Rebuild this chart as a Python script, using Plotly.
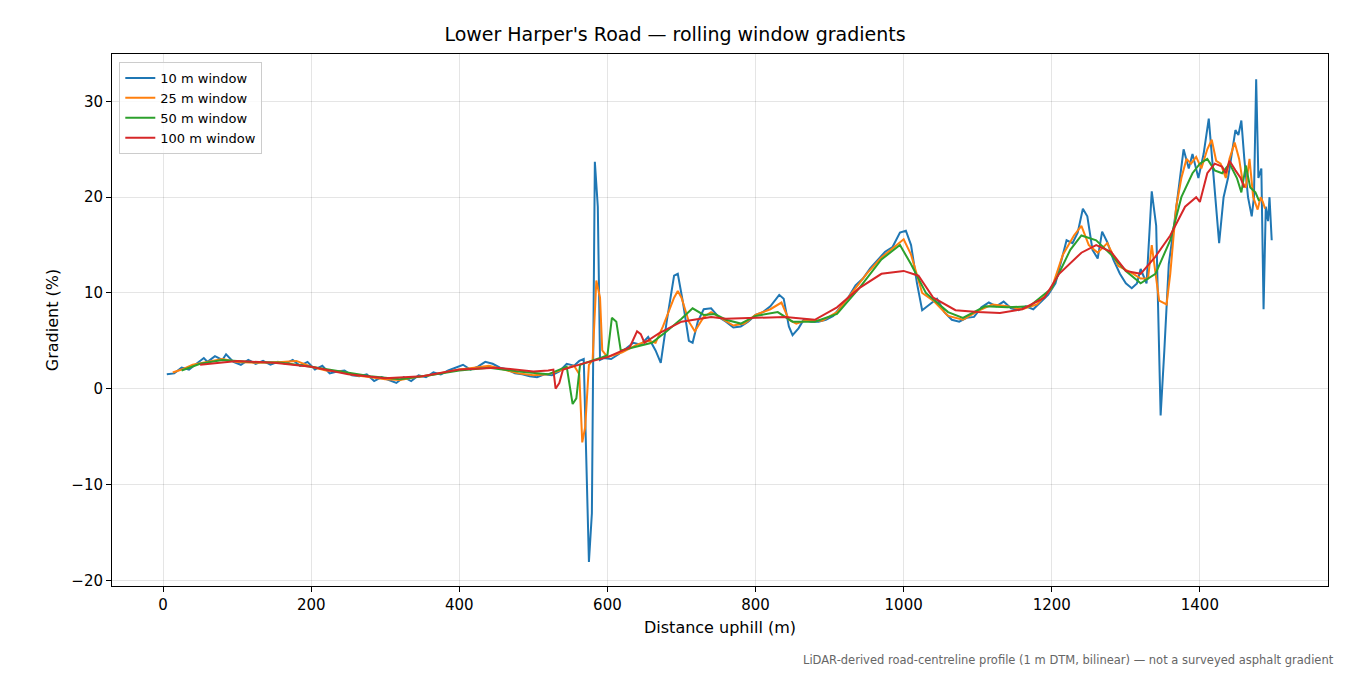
import plotly.graph_objects as go

# 10 m window
x10 = [5, 15, 25, 35, 45, 55, 60, 70, 80, 85, 95, 105, 115, 125, 135, 145, 155, 165, 175, 185, 195,
       205, 215, 225, 235, 245, 255, 265, 275, 285, 295, 305, 315, 325, 335, 345, 355, 365, 375, 385,
       395, 405, 415, 425, 435, 445, 455, 465, 475, 485, 495, 505, 515, 525, 535, 545, 555, 562, 568,
       572, 575, 579, 583, 587, 590, 595, 605, 615, 625, 635, 645, 655, 665, 672, 680, 690, 695, 702,
       710, 715, 722, 730, 740, 750, 760, 770, 780, 790, 800, 810, 820, 832, 838, 845, 850, 858, 865,
       875, 885, 895, 905, 915, 925, 935, 945, 955, 965, 975, 985, 995, 1003, 1010, 1018, 1025, 1035,
       1045, 1055, 1065, 1075, 1085, 1095, 1105, 1115, 1125, 1135, 1145, 1155, 1165, 1175, 1185, 1195,
       1205, 1212, 1220, 1228, 1235, 1242, 1248, 1255, 1262, 1268, 1275, 1283, 1292, 1300, 1308, 1315,
       1320, 1328, 1335, 1341, 1347, 1352, 1358, 1365, 1372, 1378, 1385, 1390, 1398, 1405, 1412, 1418,
       1422, 1426, 1432, 1438, 1443, 1448, 1452, 1456, 1460, 1465, 1470, 1473, 1476, 1479, 1483, 1486,
       1489, 1492, 1494, 1497]
y10 = [1.5, 1.6, 2.2, 2.0, 2.6, 3.2, 2.8, 3.4, 3.0, 3.6, 2.8, 2.5, 3.0, 2.6, 2.9, 2.5, 2.8, 2.6, 3.0, 2.4, 2.8,
       2.0, 2.4, 1.6, 1.8, 1.9, 1.4, 1.3, 1.5, 0.8, 1.2, 0.9, 0.6, 1.2, 0.8, 1.4, 1.2, 1.7, 1.5, 1.9,
       2.2, 2.5, 2.0, 2.3, 2.8, 2.6, 2.2, 2.0, 1.6, 1.5, 1.3, 1.2, 1.5, 1.4, 1.8, 2.6, 2.4, 2.9, 3.1,
       -8, -18.1, -13, 23.7, 19, 3.0, 3.2, 3.1, 3.6, 4.2, 4.8, 4.6, 5.4, 4.0, 2.7, 7, 11.8, 12, 9,
       5, 4.8, 7, 8.3, 8.4, 7.5, 7.0, 6.4, 6.5, 7.0, 7.7, 8.0, 8.6, 9.8, 9.4, 6.5, 5.6, 6.3, 7.2,
       7.0, 7.0, 7.2, 7.6, 8.5, 9.5, 10.8, 11.5, 12.6, 13.5, 14.3, 14.8, 16.3, 16.5, 15, 11, 8.2, 8.8,
       9.4, 8.0, 7.2, 7.0, 7.4, 7.5, 8.5, 9.0, 8.6, 9.1, 8.4, 8.2, 8.6, 8.3, 9.0, 9.8,
       11.0, 13.0, 15.5, 15.2, 16.3, 18.8, 18.0, 14.5, 13.6, 16.4, 15.3, 13.5, 12.0, 11.0, 10.5, 11.0,
       12.5, 11.0, 20.6, 17, -2.8, 4, 13, 17, 21, 25, 23, 24.5, 22, 24.5, 28.2, 23,
       19, 15.2, 20, 22, 24.5, 27, 26.5, 28, 24, 20, 18, 20, 32.3, 22, 23, 8.3,
       19, 17.5, 20, 15.5]

# 25 m window
x25 = [13, 25, 40, 60, 80, 100, 130, 160, 180, 200, 220, 240, 260, 280, 300, 320, 340, 360, 380, 400,
       420, 440, 460, 480, 500, 520, 540, 555, 562, 566, 570, 575, 580, 585, 590, 593, 600, 620, 640,
       655, 665, 675, 690, 695, 700, 710, 718, 730, 740, 755, 770, 785, 800, 820, 835, 845, 855, 870,
       890, 910, 930, 950, 970, 990, 1000, 1010, 1025, 1040, 1060, 1080, 1100, 1120, 1140, 1160, 1180,
       1200, 1215, 1230, 1240, 1250, 1262, 1275, 1290, 1300, 1310, 1320, 1330, 1335, 1345, 1355, 1360,
       1368, 1375, 1382, 1388, 1395, 1402, 1410, 1416, 1422, 1428, 1435, 1440, 1447, 1453, 1458, 1462,
       1467, 1472, 1478, 1482, 1485, 1488]
y25 = [1.7, 2.0, 2.5, 2.8, 3.1, 2.8, 2.7, 2.8, 2.9, 2.3, 1.9, 1.8, 1.4, 1.2, 1.0, 0.9, 1.2, 1.4, 1.7, 2.0,
       2.2, 2.4, 2.0, 1.6, 1.4, 1.5, 2.0, 2.4, 1.5, -5.6, -4, 2.5, 3.0, 11.3, 9.5, 4, 3.3, 3.8, 4.6,
       5.0, 4.8, 6.5, 9.5, 10.2, 9.5, 7, 6.0, 7.5, 8.0, 7.3, 6.6, 6.8, 7.7, 8.3, 9.0, 7.2, 6.8, 7.2,
       7.1, 8.0, 10.0, 12, 13.7, 15.0, 15.6, 14, 10, 9.2, 7.6, 7.2, 8.1, 8.8, 8.6, 8.3, 8.8,
       10.5, 14, 16, 17, 15, 14.2, 15.2, 12.8, 12.4, 12, 11.5, 11.5, 15, 9.2, 8.8, 12,
       19, 22, 24, 23.5, 24.2, 23, 25.0, 26, 23.8, 23.5, 22, 24, 25.7, 24, 21.5, 21,
       24, 20, 18.7, 20, 19.5, 18.8]

# 50 m window
x50 = [25, 50, 80, 120, 160, 200, 240, 280, 320, 360, 400, 440, 480, 520, 545, 553, 558, 563, 590, 600,
       606, 612, 618, 640, 660, 680, 700, 715, 730, 745, 760, 780, 800, 830, 850, 880, 910, 940, 970,
       995, 1010, 1030, 1060, 1080, 1110, 1140, 1170, 1200, 1225, 1240, 1260, 1280, 1300, 1320, 1340,
       1360, 1375, 1390, 1400, 1410, 1420, 1430, 1440, 1450, 1456, 1462, 1468, 1475, 1480]
y50 = [1.9, 2.6, 3.0, 2.8, 2.7, 2.3, 1.8, 1.3, 1.0, 1.4, 1.9, 2.2, 1.8, 1.5, 2.3, -1.6, -1.0, 2.5, 3.2, 3.5,
       7.4, 7.0, 4, 4.4, 4.8, 6.0, 7.3, 8.4, 7.7, 7.8, 7.2, 6.8, 7.6, 8.0, 7.0, 7.0, 7.8, 10.5, 13.5,
       15.0, 13, 10, 8.0, 7.4, 8.6, 8.5, 8.6, 10.5, 14.5, 16, 15.5, 14.0, 12.3, 11.0, 12.0,
       15.5, 20, 22.5, 23.5, 24, 22.8, 22.5, 23.5, 22, 20.5, 23.3, 21, 20.5, 19.6]

# 100 m window
x100 = [50, 100, 150, 200, 250, 300, 350, 400, 450, 500, 520, 527, 530, 535, 540, 570, 600, 630, 640,
        645, 650, 670, 700, 740, 760, 800, 840, 880, 910, 940, 970, 1000, 1020, 1040, 1070, 1100, 1130,
        1160, 1190, 1210, 1240, 1260, 1280, 1300, 1320, 1340, 1360, 1380, 1395, 1400, 1410, 1420, 1430,
        1435, 1440, 1448, 1455, 1460]
y100 = [2.5, 2.9, 2.7, 2.3, 1.5, 1.1, 1.3, 2.0, 2.2, 1.8, 1.9, 2.0, 0.0, 0.6, 2.0, 2.7, 3.3, 4.3, 6.0,
        5.7, 4.8, 5.8, 7.0, 7.5, 7.3, 7.4, 7.5, 7.2, 8.5, 10.5, 12.0, 12.3, 11.8, 9.5, 8.2, 8.0, 7.9,
        8.3, 9.5, 12, 14.2, 15.0, 14.3, 12.3, 12.0, 13.8, 16, 19.0, 20.0, 19.5, 22.5, 23.5, 23.2,
        22.5, 23.8, 22.8, 22, 21.0]

series = [
    ("10 m window", x10, y10, "#1f77b4"),
    ("25 m window", x25, y25, "#ff7f0e"),
    ("50 m window", x50, y50, "#2ca02c"),
    ("100 m window", x100, y100, "#d62728"),
]

fig = go.Figure()
for name, xs, ys, col in series:
    fig.add_trace(go.Scatter(x=xs, y=ys, mode="lines", name=name,
                             line=dict(color=col, width=2)))

axis = dict(showline=True, linecolor="black", linewidth=1, mirror=True,
            ticks="outside", ticklen=5, tickcolor="black",
            showgrid=True, gridcolor="rgba(0,0,0,0.1)", zeroline=False,
            tickfont=dict(size=15, color="black"))

# page body adds an 8px margin, so the figure is made a bit smaller
fig.update_layout(
    width=1334, height=659,
    paper_bgcolor="white", plot_bgcolor="white",
    font=dict(family="DejaVu Sans", color="black"),
    margin=dict(l=104, r=14, t=46, b=81),
    title=dict(text="Lower Harper's Road — rolling window gradients",
               x=0.5, xanchor="center", y=0.96, yanchor="middle", font=dict(size=19)),
    xaxis=dict(axis, range=[-69, 1573], tickvals=[0, 200, 400, 600, 800, 1000, 1200, 1400],
               title=dict(text="Distance uphill (m)", font=dict(size=16), standoff=8)),
    yaxis=dict(axis, range=[-20.6, 34.95], tickvals=[-20, -10, 0, 10, 20, 30],
               ticktext=["−20", "−10", "0", "10", "20", "30"],
               title=dict(text="Gradient (%)", font=dict(size=16), standoff=8)),
    legend=dict(x=0.006, y=0.985, xanchor="left", yanchor="top",
                bgcolor="rgba(255,255,255,0.8)", bordercolor="#cccccc", borderwidth=1,
                font=dict(size=13)),
    annotations=[dict(text="LiDAR-derived road-centreline profile (1 m DTM, bilinear) — not a surveyed asphalt gradient",
                      xref="paper", yref="paper", x=1.0066, y=-0.139, xanchor="right", yanchor="middle",
                      showarrow=False, font=dict(size=11.5, color="#666666"))],
)

fig.write_html("out.html")
